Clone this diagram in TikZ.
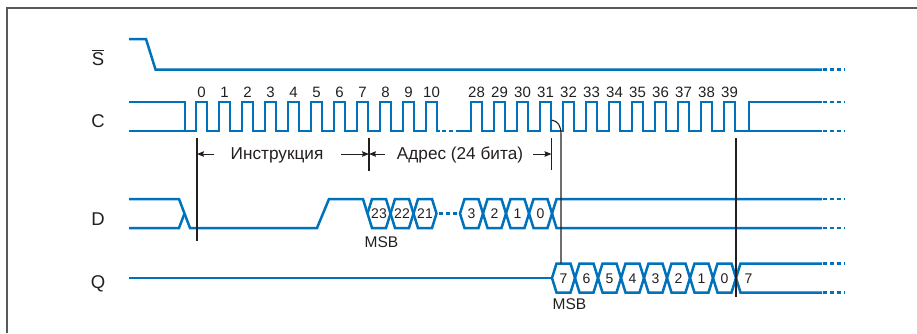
\documentclass[tikz,border=0pt]{standalone}
\usepackage{fontspec}
\setmainfont{Liberation Sans}
\usetikzlibrary{arrows.meta, calc}
\definecolor{sigblue}{RGB}{0,114,188}
\definecolor{inkgray}{RGB}{35,31,32}
\tikzset{
  wave/.style={draw=sigblue, line width=2.5pt, line join=miter, miter limit=3},
  wavecont/.style={wave, dash pattern=on 4pt off 3pt},
  marker/.style={draw=inkgray, line width=1.1pt},
  framebox/.style={draw=black!65, line width=1.3pt},
  dimarrow/.style={-{Stealth[length=7pt, width=5.5pt, inset=1pt]},
    draw=inkgray, fill=inkgray, line width=1pt},
  siglabel/.style={font=\fontsize{18.5}{18.5}\selectfont, text=inkgray,
    inner sep=0pt, anchor=base},
  ticklabel/.style={font=\fontsize{15}{15}\selectfont, text=inkgray,
    inner sep=0pt, anchor=base},
  bitlabel/.style={font=\fontsize{14}{14}\selectfont, text=inkgray,
    inner sep=0pt},
  notelabel/.style={font=\fontsize{17.2}{17.2}\selectfont, text=inkgray,
    inner sep=0pt},
  msblabel/.style={font=\fontsize{15.5}{15.5}\selectfont, text=inkgray,
    inner sep=0pt},
}

\begin{document}
\begin{tikzpicture}[x=1pt, y=-1pt]
  \useasboundingbox (0,0) rectangle (917,333);
  \draw[framebox] (7,333) -- (7,8) -- (917,8);

  % signal names
  \node[siglabel] (lblS) at (98,65) {$\overline{\mbox{S}}$};
  \node[siglabel] (lblC) at (98,127.3) {C};
  \node[siglabel] (lblD) at (98,225) {D};
  \node[siglabel] (lblQ) at (98,288.3) {Q};

  % S
  \draw[wave] (129,39) -- (146,39) -- (155.5,69.5) -- (822,69.5);
  \draw[wavecont] (823,69.5) -- (845,69.5);

  % C
  \draw[wave] (129,102) -- (185,102) -- (185,131);
  \draw[wave] (129,131)
    \foreach \k in {0,...,10}{
      -- ({196+23*\k},131) -- ({196+23*\k},102)
      -- ({207+23*\k},102) -- ({207+23*\k},131)
    } -- (440,131);
  \draw[wavecont] (442,131) -- (460,131);
  \draw[wave] (460,131)
    \foreach \k in {0,...,11}{
      -- ({471+23*\k},131) -- ({471+23*\k},102)
      -- ({482+23*\k},102) -- ({482+23*\k},131)
    } -- (822,131);
  \draw[wave] (749,131) -- (749,102) -- (822,102);
  \draw[wavecont] (823,102) -- (845,102);
  \draw[wavecont] (823,131) -- (845,131);
  \foreach \k in {0,...,10}
    \node[ticklabel] (tick\k) at ({201.5+23*\k},97.3) {\k};
  \foreach \k in {28,...,39}
    \node[ticklabel] (tick\k) at ({476.5+23*(\k-28)},97.3) {\k};

  % D
  \draw[wave] (129,228) -- (179,228) -- (184.5,213.5);
  \draw[wave] (129,199) -- (179,199) -- (190,228) -- (317,228)
    -- (329,199) -- (363,199) -- (367.5,213.5);
  \foreach \lbl [count=\j from 0] in {23,22,21}{
    \draw[wave] ({367.5+23*\j},213.5) -- ({372+23*\j},199)
      -- ({386+23*\j},199) -- ({390.5+23*\j},213.5)
      -- ({386+23*\j},228) -- ({372+23*\j},228) -- cycle;
    \node[bitlabel] (d\lbl) at ({379+23*\j},214) {\lbl};
  }
  \draw[wavecont] (439,213.5) -- (460,213.5);
  \foreach \lbl [count=\j from 0] in {3,2,1,0}{
    \draw[wave] ({460+23*\j},213.5) -- ({464.5+23*\j},199)
      -- ({478.5+23*\j},199) -- ({483+23*\j},213.5)
      -- ({478.5+23*\j},228) -- ({464.5+23*\j},228) -- cycle;
    \node[bitlabel] (dl\lbl) at ({471.5+23*\j},214) {\lbl};
  }
  \draw[wave] (552,213.5) -- (556.5,199) -- (822,199);
  \draw[wave] (552,213.5) -- (556.5,228) -- (822,228);
  \draw[wavecont] (823,199) -- (845,199);
  \draw[wavecont] (823,228) -- (845,228);
  \node[msblabel] (msbD) at (381.5,242) {MSB};

  % Q
  \draw[wave] (129,278) -- (552,278);
  \foreach \lbl [count=\j from 0] in {7,6,5,4,3,2,1,0}{
    \draw[wave] ({552+23*\j},278) -- ({556.5+23*\j},263.5)
      -- ({570.5+23*\j},263.5) -- ({575+23*\j},278)
      -- ({570.5+23*\j},292.5) -- ({556.5+23*\j},292.5) -- cycle;
    \node[bitlabel] (q\lbl) at ({563.5+23*\j},278.5) {\lbl};
  }
  \draw[wave] (736,278) -- (740.5,263.5) -- (822,263.5);
  \draw[wave] (736,278) -- (740.5,292.5) -- (822,292.5);
  \draw[wavecont] (823,263.5) -- (845,263.5);
  \draw[wavecont] (823,292.5) -- (845,292.5);
  \node[bitlabel] (qnext) at (748.5,278.5) {7};
  \node[msblabel] (msbQ) at (569.5,303.7) {MSB};

  % timing markers
  \coordinate (m0top) at (197,138);
  \coordinate (m0bot) at (197,241);
  \coordinate (m7top) at (369,138);
  \coordinate (m7bot) at (369,171);
  \coordinate (m31top) at (551.5,138);
  \coordinate (m31bot) at (551.5,170);
  \coordinate (m39top) at (736,138);
  \coordinate (m39bot) at (736,297);
  \coordinate (c31fall) at (551.5,120);
  \coordinate (q7top) at (561,263.5);
  \draw[marker] (m0top) -- (m0bot);
  \draw[marker] (m7top) -- (m7bot);
  \draw[marker] (m31top) -- (m31bot);
  \draw[marker] (m39top) -- (m39bot);
  \draw[marker] (c31fall) .. controls (558,121) and (561,126) .. (561,134)
    -- (q7top);

  % field widths
  \node[notelabel] (instr) at (277,155) {Инструкция};
  \node[notelabel] (addr) at (460,155) {Адрес (24 бита)};
  \coordinate (instrL) at (214,154);
  \coordinate (instrR) at (341,154);
  \coordinate (addrL) at (385,154);
  \coordinate (addrR) at (533,154);
  \draw[dimarrow] (instrL) -- (instrL -| m0top);
  \draw[dimarrow] (instrR) -- (instrR -| m7top);
  \draw[dimarrow] (addrL) -- (addrL -| m7top);
  \draw[dimarrow] (addrR) -- (addrR -| m31top);
\end{tikzpicture}
\end{document}
